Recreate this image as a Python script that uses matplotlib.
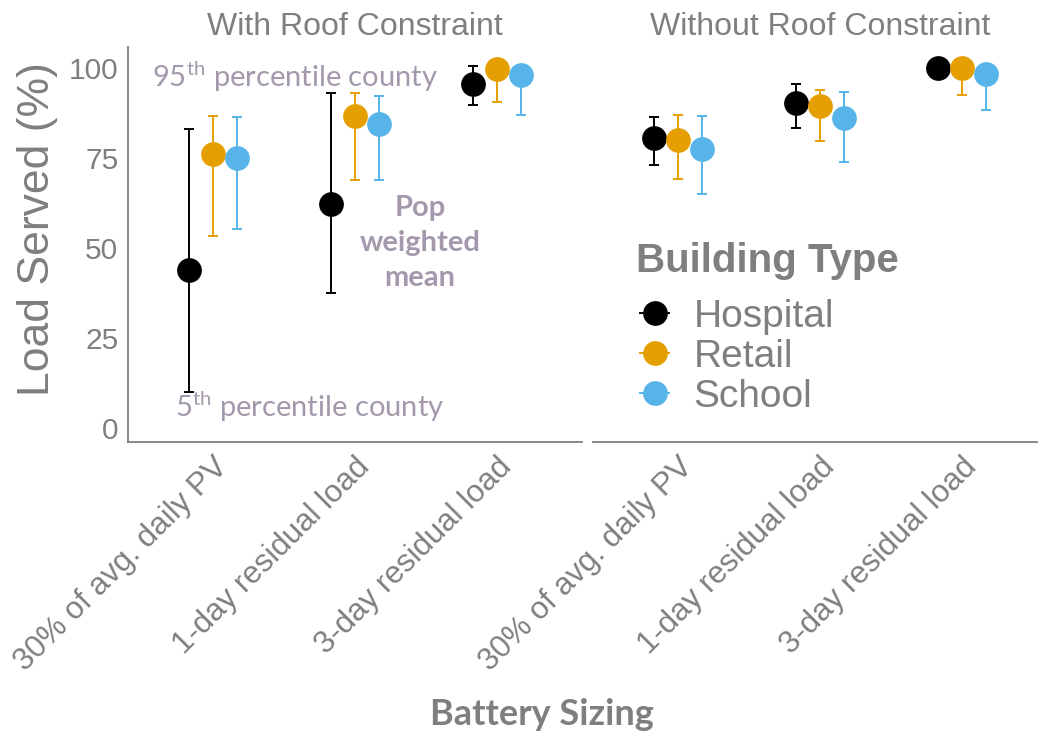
import matplotlib
matplotlib.use('Agg')
import matplotlib.pyplot as plt
import matplotlib.transforms as mtransforms
from matplotlib.lines import Line2D
import numpy as np

plt.rcParams['font.family'] = ['Liberation Sans', 'DejaVu Sans']
plt.rcParams['mathtext.fontset'] = 'custom'
plt.rcParams['mathtext.rm'] = 'Lato'

panels = ['With Roof Constraint', 'Without Roof Constraint']
sizing = ['30% of avg. daily PV', '1-day residual load', '3-day residual load']
buildings = ['Hospital', 'Retail', 'School']
colors = ['#000000', '#E69F00', '#56B4E9']

# rows = building, cols = battery sizing (pop weighted mean, 5th / 95th pct county)
roof_mean = [[43.9, 62.1, 95.6], [76.0, 86.7, 99.6], [74.9, 84.4, 98.1]]
roof_lo = [[10.1, 37.4, 89.7], [53.2, 68.8, 90.6], [55.2, 68.8, 86.9]]
roof_hi = [[83.1, 93.0, 100.5], [86.7, 93.0, 100.0], [86.3, 92.2, 100.0]]

noroof_mean = [[80.4, 90.2, 100.0], [80.0, 89.5, 100.0], [77.4, 86.2, 98.4]]
noroof_lo = [[73.1, 83.2, 99.8], [69.1, 79.8, 92.4], [65.1, 73.9, 88.3]]
noroof_hi = [[86.4, 95.6, 100.0], [86.9, 93.8, 100.0], [86.7, 93.3, 100.0]]

panel_data = [(roof_mean, roof_lo, roof_hi), (noroof_mean, noroof_lo, noroof_hi)]

grey = '#7F7F7F'
note_col = '#A398AC'
dodge = [-1 / 6, 0, 1 / 6]

fig = plt.figure(figsize=(10.38, 7.35), dpi=100)
ax_l = fig.add_axes([0.1233, 0.3986, 0.4374, 0.5374])
ax_r = fig.add_axes([0.5713, 0.3986, 0.4374, 0.5374])

# nudge rotated tick labels a little to the right, like the ggplot version
nudge = mtransforms.ScaledTranslation(8 / 100, 0, fig.dpi_scale_trans)

x = np.arange(len(sizing))
for ax, title, (mean, lo, hi) in zip([ax_l, ax_r], panels, panel_data):
    for i, name in enumerate(buildings):
        m = np.array(mean[i])
        err = [m - np.array(lo[i]), np.array(hi[i]) - m]
        ax.errorbar(x + dodge[i], m, yerr=err, fmt='o', color=colors[i],
                    ms=16.8, elinewidth=1.4, capsize=3.6, capthick=1.4,
                    zorder=3 + i)
    ax.set_xlim(-0.6, 2.6)
    ax.set_ylim(-3.9, 105.8)
    ax.set_xticks(x)
    ax.set_xticklabels(sizing, rotation=45, ha='right', va='top',
                       rotation_mode='anchor', fontsize=22.5, color=grey)
    for lab in ax.get_xticklabels():
        lab.set_transform(lab.get_transform() + nudge)
    ax.tick_params(length=0, pad=7)
    for s in ['top', 'right']:
        ax.spines[s].set_visible(False)
    ax.spines['bottom'].set_color(grey)
    ax.spines['bottom'].set_linewidth(1.3)
    ax.set_title(title, fontsize=23, color=grey, pad=8.6)

ax_l.spines['left'].set_color(grey)
ax_l.spines['left'].set_linewidth(1.3)
ax_l.set_yticks([0, 25, 50, 75, 100])
ax_l.tick_params(axis='y', labelsize=21.5, labelcolor=grey)
ax_l.set_ylabel('Load Served (%)', fontsize=32, color=grey)
ax_l.yaxis.set_label_coords(-0.154, 0.54)

ax_r.spines['left'].set_visible(False)
ax_r.set_yticks([])

# annotations explaining the range bars
ax_l.text(0.053, 0.9, r'$\mathrm{95}^{\mathrm{th}}$ percentile county',
          transform=ax_l.transAxes, family='Lato', fontsize=21,
          color=note_col, va='baseline', ha='left')
ax_l.text(0.1035, 0.063, r'$\mathrm{5}^{\mathrm{th}}$ percentile county',
          transform=ax_l.transAxes, family='Lato', fontsize=21,
          color=note_col, va='baseline', ha='left')
ax_l.text(0.643, 0.505, 'Pop\nweighted\nmean', transform=ax_l.transAxes,
          family='Lato', fontweight='bold', fontsize=21, color=note_col,
          ha='center', va='center', linespacing=1.43)

fig.text(542 / 1038, 1 - 725 / 735, 'Battery Sizing', family='Lato',
         fontweight='bold', fontsize=26, color=grey, ha='center', va='baseline')

# legend
fig.text(636 / 1038, 1 - 272 / 735, 'Building Type', fontsize=29,
         fontweight='bold', color=grey, va='baseline', ha='left')
handles = [Line2D([0], [0], color=c, marker='o', ms=16.8, lw=1.4)
           for c in colors]
leg = fig.legend(handles, buildings, loc='upper left',
                 bbox_to_anchor=(640 / 1038, 1 - 299 / 735), frameon=False,
                 fontsize=28, handlelength=0.75, handletextpad=0.62,
                 labelspacing=0.1, borderpad=0, borderaxespad=0)
for t in leg.get_texts():
    t.set_color(grey)

fig.savefig('out.png', dpi=100)
